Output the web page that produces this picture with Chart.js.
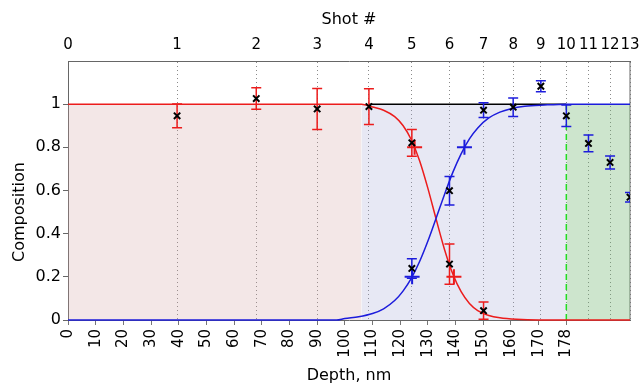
<!DOCTYPE html>
<html>
<head>
<meta charset="utf-8">
<script src="https://cdn.jsdelivr.net/npm/chart.js@4"></script>
<style>
  html, body { margin: 0; padding: 0; background: #fff; }
  canvas { display: block; }
</style>
</head>
<body>
<canvas id="chart" width="640" height="385"></canvas>
<script>
// Shot positions (top axis) in depth units
const shotLabels = ["0", "1", "2", "3", "4", "5", "6", "7", "8", "9", "10", "11", "12", "13"];
const shotDepth = [0, 39.4, 68, 90, 108.7, 124.2, 137.8, 150.1, 160.8, 170.8, 180, 188, 195.8, 203];

// Bottom axis ticks
const depthTicks = [0, 10, 20, 30, 40, 50, 60, 70, 80, 90, 100, 110, 120, 130, 140, 150, 160, 170, 180];
const depthTickLabels = ["0", "10", "20", "30", "40", "50", "60", "70", "80", "90", "100", "110", "120", "130", "140", "150", "160", "170", "178"];

// Left axis ticks
const compTicks = [0, 0.2, 0.4, 0.6, 0.8, 1];
const compTickLabels = ["0", "0.2", "0.4", "0.6", "0.8", "1"];

// Measured points (red: shots 1-7, blue: shots 5-13)
const redShots = [1, 2, 3, 4, 5, 6, 7];
const redValues = [0.946, 1.026, 0.978, 0.989, 0.821, 0.259, 0.043];
const redErrors = [0.055, 0.05, 0.095, 0.083, 0.062, 0.093, 0.04];

const blueShots = [5, 6, 7, 8, 9, 10, 11, 12, 13];
const blueValues = [0.239, 0.599, 0.972, 0.986, 1.083, 0.946, 0.818, 0.73, 0.569];
const blueErrors = [0.045, 0.066, 0.034, 0.043, 0.025, 0.05, 0.039, 0.03, 0.022];

// Fitted profiles
const redCurveDepth = [0, 106, 110, 114, 118, 121, 124, 127, 130, 133, 136, 139, 142, 145, 148, 152, 156, 162, 170, 203];
const redCurveValue = [1, 1, 0.987, 0.972, 0.942, 0.901, 0.835, 0.738, 0.61, 0.466, 0.327, 0.213, 0.131, 0.077, 0.044, 0.021, 0.01, 0.003, 0, 0];
const blueCurveDepth = [0, 97, 100, 105, 110, 114, 118, 121, 124, 127, 130, 133, 136, 139, 142, 145, 148, 152, 156, 160, 165, 172, 180, 203];
const blueCurveValue = [0, 0, 0.007, 0.015, 0.03, 0.052, 0.09, 0.134, 0.193, 0.271, 0.366, 0.473, 0.582, 0.684, 0.77, 0.839, 0.89, 0.936, 0.963, 0.979, 0.99, 0.996, 1, 1];

// 20% / 80% markers
const redCrossDepth = [125.2, 139.4];
const redCrossValue = [0.8, 0.2];
const blueCrossDepth = [124.3, 143.2];
const blueCrossValue = [0.2, 0.8];

// Sum line and shaded layers
const sumLineDepth = [108.7, 180];
const sumLineValue = [1, 1];
const layerEdges = [0, 106, 180, 203];
const layerColors = ["rgba(207,159,159,0.25)", "rgba(159,163,211,0.25)", "rgba(112,181,112,0.35)"];
const interfaceDepth = 180;

const RED = "#ec1c1c";
const BLUE = "#1c1cdc";
const FONT = '"DejaVu Sans"';

const pts = (xs, ys) => xs.map((x, i) => ({ x: x, y: ys[i] }));

const datasets = [];

// shaded layers
for (let i = 0; i < layerColors.length; i++) {
  datasets.push({
    data: [{ x: layerEdges[i], y: 1 }, { x: layerEdges[i + 1], y: 1 }],
    showLine: true,
    fill: "origin",
    backgroundColor: layerColors[i],
    borderColor: "transparent",
    borderWidth: 1,
    pointRadius: 0,
    order: 20,
  });
}

// interface (dashed green)
datasets.push({
  data: [{ x: interfaceDepth, y: 0 }, { x: interfaceDepth, y: 1 }],
  showLine: true,
  borderColor: "#22dd22",
  borderWidth: 1.5,
  borderDash: [6, 4],
  pointRadius: 0,
  order: 15,
});

// sum line
datasets.push({
  data: pts(sumLineDepth, sumLineValue),
  showLine: true,
  borderColor: "#000",
  borderWidth: 1.5,
  pointRadius: 0,
  order: 12,
});

// fitted curves
datasets.push({
  data: pts(redCurveDepth, redCurveValue),
  showLine: true,
  borderColor: RED,
  borderWidth: 1.5,
  pointRadius: 0,
  cubicInterpolationMode: "monotone",
  clip: { left: 0, right: 0, top: 5, bottom: 5 },
  order: 10,
});
datasets.push({
  data: pts(blueCurveDepth, blueCurveValue),
  showLine: true,
  borderColor: BLUE,
  borderWidth: 1.5,
  pointRadius: 0,
  cubicInterpolationMode: "monotone",
  clip: { left: 0, right: 0, top: 5, bottom: 5 },
  order: 9,
});

// big crosses
datasets.push({
  data: pts(redCrossDepth, redCrossValue),
  pointStyle: "cross",
  pointRadius: 7.5,
  borderColor: RED,
  borderWidth: 2,
  order: 6,
});
datasets.push({
  data: pts(blueCrossDepth, blueCrossValue),
  pointStyle: "cross",
  pointRadius: 7.5,
  borderColor: BLUE,
  borderWidth: 2,
  order: 6,
});

// measured points with error bars
datasets.push({
  data: pts(redShots.map((s) => shotDepth[s]), redValues),
  errors: redErrors,
  errorColor: RED,
  pointStyle: "crossRot",
  pointRadius: 4.5,
  borderColor: "#000",
  borderWidth: 2,
  order: 2,
});
datasets.push({
  data: pts(blueShots.map((s) => shotDepth[s]), blueValues),
  errors: blueErrors,
  errorColor: BLUE,
  pointStyle: "crossRot",
  pointRadius: 4.5,
  borderColor: "#000",
  borderWidth: 2,
  order: 1,
});

// error bars drawn just before their points
const errorBars = {
  id: "errorBars",
  beforeDatasetDraw(chart, args) {
    const ds = chart.data.datasets[args.index];
    if (!ds.errors) return;
    const { ctx, chartArea } = chart;
    const x = chart.scales.x;
    const y = chart.scales.y;
    ctx.save();
    ctx.beginPath();
    ctx.rect(chartArea.left, chartArea.top, chartArea.width, chartArea.height);
    ctx.clip();
    ctx.strokeStyle = ds.errorColor;
    ctx.lineWidth = 1.5;
    ds.data.forEach((p, i) => {
      const px = x.getPixelForValue(p.x);
      const top = y.getPixelForValue(p.y + ds.errors[i]);
      const bot = y.getPixelForValue(p.y - ds.errors[i]);
      ctx.beginPath();
      ctx.moveTo(px, top);
      ctx.lineTo(px, bot);
      ctx.moveTo(px - 5, top);
      ctx.lineTo(px + 5, top);
      ctx.moveTo(px - 5, bot);
      ctx.lineTo(px + 5, bot);
      ctx.stroke();
    });
    ctx.restore();
  },
};

// right frame edge and left title (centred on 0..1)
const frame = {
  id: "frame",
  beforeDatasetsDraw(chart) {
    const { ctx, chartArea } = chart;
    ctx.save();
    ctx.strokeStyle = "#666";
    ctx.lineWidth = 1;
    ctx.beginPath();
    ctx.moveTo(chartArea.right, chartArea.top);
    ctx.lineTo(chartArea.right, chartArea.bottom);
    ctx.stroke();
    ctx.restore();
  },
  afterDraw(chart) {
    const { ctx } = chart;
    const y = chart.scales.y;
    const cy = (y.getPixelForValue(0) + y.getPixelForValue(1)) / 2;
    ctx.save();
    ctx.translate(20, cy);
    ctx.rotate(-Math.PI / 2);
    ctx.textAlign = "center";
    ctx.textBaseline = "middle";
    ctx.fillStyle = "#000";
    ctx.font = "16px " + FONT;
    ctx.fillText("Composition", 0, 0);
    ctx.restore();
  },
};

Chart.defaults.font.family = FONT;
Chart.defaults.color = "#000";

new Chart(document.getElementById("chart"), {
  type: "scatter",
  data: { datasets: datasets },
  options: {
    responsive: false,
    animation: false,
    events: [],
    devicePixelRatio: 1,
    layout: { padding: { left: 0, right: 10, top: 0, bottom: 0 } },
    plugins: { legend: { display: false }, tooltip: { enabled: false } },
    scales: {
      x: {
        type: "linear",
        position: "bottom",
        min: 0,
        max: 203,
        afterBuildTicks: (s) => { s.ticks = depthTicks.map((v) => ({ value: v })); },
        afterFit: (s) => { s.height = 65; s.paddingLeft = 0; s.paddingRight = 0; },
        ticks: {
          autoSkip: false,
          minRotation: 90,
          maxRotation: 90,
          padding: 4,
          font: { size: 15 },
          callback: (v, i) => depthTickLabels[i],
        },
        grid: { drawOnChartArea: false, drawTicks: true, tickLength: 5, color: "#777" },
        border: { color: "#666" },
        title: { display: true, text: "Depth, nm", font: { size: 16 }, padding: { top: 0, bottom: 0 } },
      },
      x2: {
        type: "linear",
        position: "top",
        min: 0,
        max: 203,
        afterBuildTicks: (s) => { s.ticks = shotDepth.map((v) => ({ value: v })); },
        afterFit: (s) => { s.height = 61; s.paddingLeft = 0; s.paddingRight = 0; },
        ticks: {
          autoSkip: false,
          maxRotation: 0,
          padding: 7,
          font: { size: 15 },
          callback: (v, i) => shotLabels[i],
        },
        grid: { drawOnChartArea: true, drawTicks: false, color: "#8a8a8a", lineWidth: 1 },
        border: { color: "#666", dash: [1, 3] },
        title: { display: true, text: "Shot #", font: { size: 16 }, padding: { top: 10, bottom: 0 } },
      },
      y: {
        type: "linear",
        position: "left",
        min: 0,
        max: 1.2,
        afterBuildTicks: (s) => { s.ticks = compTicks.map((v) => ({ value: v })); },
        afterFit: (s) => { s.width = 68; s.paddingTop = 0; s.paddingBottom = 0; },
        ticks: {
          padding: 2,
          font: { size: 16 },
          callback: (v, i) => compTickLabels[i],
        },
        grid: { drawOnChartArea: false, drawTicks: true, tickLength: 5, color: "#666" },
        border: { color: "#666" },
      },
    },
  },
  plugins: [errorBars, frame],
});
</script>
</body>
</html>
